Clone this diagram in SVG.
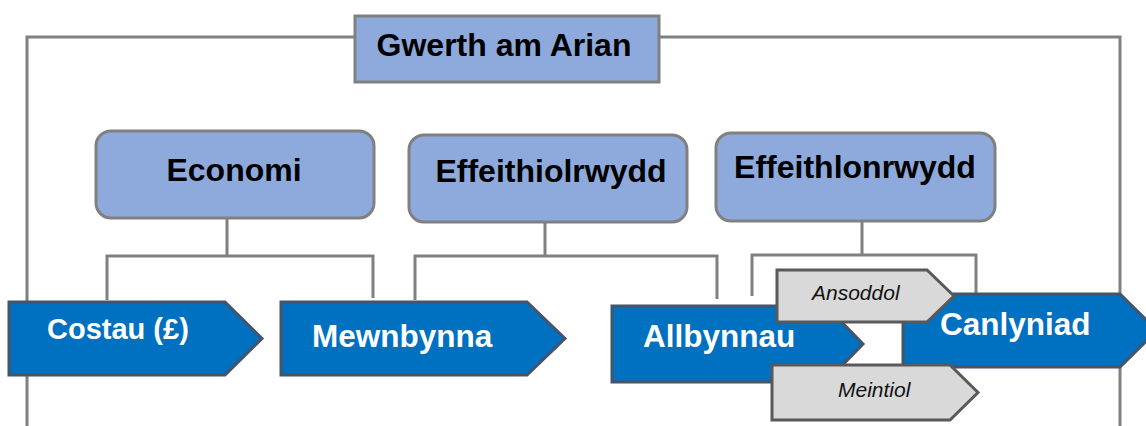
<svg xmlns="http://www.w3.org/2000/svg" width="1146" height="426" viewBox="0 0 1146 426">
<style>
.frame{fill:none;stroke:#808080;stroke-width:3}
.conn{fill:none;stroke:#808080;stroke-width:3}
.box{fill:#8eaadc;stroke:#808080;stroke-width:3}
.blue{fill:#0070c0;stroke:#44546a;stroke-width:3}
.grey{fill:#d9d9d9;stroke:#595959;stroke-width:3}
.hdr{font-family:"Liberation Sans",Arial,sans-serif;font-weight:bold;font-size:32px;fill:#000}
.wt{font-family:"Liberation Sans",Arial,sans-serif;font-weight:bold;font-size:31.5px;fill:#fff}
.it{font-family:"Liberation Sans",Arial,sans-serif;font-style:italic;font-size:21px;fill:#111}
</style>
<rect width="1146" height="426" fill="#fff"/>
<g id="connectors">
<path class="frame" d="M355,37 H27 V426 M659,37 H1120 V426"/>
<path class="conn" d="M227,218 V256 M107,300 V256 H373 V298"/>
<path class="conn" d="M545,222 V256 M415,300 V256 H717 V299"/>
<path class="conn" d="M862,221 V255 M752,296 V255 H976 V294"/>
</g>
<g id="gwerth">
<rect class="box" x="355" y="16" width="304" height="66"/>
<text class="hdr" x="504" y="56" text-anchor="middle">Gwerth am Arian</text>
</g>
<g id="economi">
<rect class="box" x="96" y="131" width="278" height="87" rx="15"/>
<text class="hdr" x="234" y="181" text-anchor="middle">Economi</text>
</g>
<g id="effeithiolrwydd">
<rect class="box" x="409" y="135" width="278" height="87" rx="15"/>
<text class="hdr" x="551" y="182" text-anchor="middle">Effeithiolrwydd</text>
</g>
<g id="effeithlonrwydd">
<rect class="box" x="716" y="133" width="279" height="88" rx="15"/>
<text class="hdr" x="855" y="178" text-anchor="middle">Effeithlonrwydd</text>
</g>
<g id="costau">
<path class="blue" d="M9,302 H225 L262,338.5 L225,375 H9 Z"/>
<text class="wt" x="47" y="339" style="font-size:29px">Costau (£)</text>
</g>
<g id="mewnbynna">
<path class="blue" d="M281,302 H527 L565,338.5 L527,375 H281 Z"/>
<text class="wt" x="312" y="347">Mewnbynna</text>
</g>
<g id="allbynnau">
<path class="blue" d="M612,306 H826 L863,344 L826,382 H612 Z"/>
<text class="wt" x="643" y="347">Allbynnau</text>
</g>
<g id="canlyniad">
<path class="blue" d="M903,294 H1120 L1157,330.5 L1120,367 H903 Z"/>
<text class="wt" x="940" y="335">Canlyniad</text>
</g>
<g id="ansoddol">
<path class="grey" d="M777,270 H927 L954,296 L927,322 H777 Z"/>
<text class="it" x="812" y="300">Ansoddol</text>
</g>
<g id="meintiol">
<path class="grey" d="M772,365 H950 L978,392.5 L950,420 H772 Z"/>
<text class="it" x="838" y="397">Meintiol</text>
</g>
</svg>
